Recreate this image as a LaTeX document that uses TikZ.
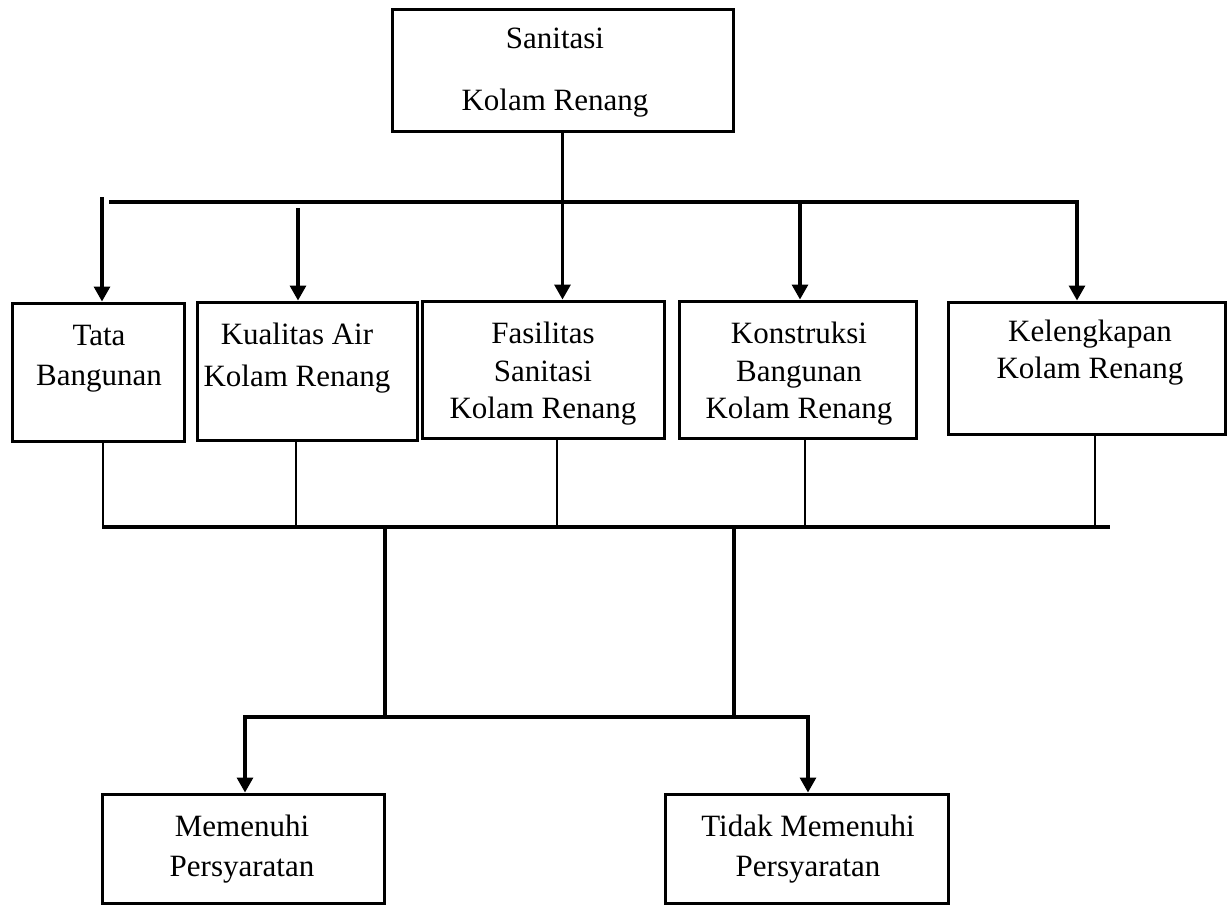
\documentclass[tikz,border=0pt]{standalone}
\usepackage{fontspec}
\setmainfont{Liberation Serif}
\usetikzlibrary{arrows.meta}
\tikzset{
    box/.style={draw,line width=1.5pt,inner sep=0pt},
    txt/.style={inner sep=0pt,align=center,anchor=north,font=\fontsize{15.5}{19.5}\selectfont},
    link/.style={line width=1.6pt},
    thinlink/.style={line width=1pt},
    arr/.style={line width=1.6pt,-{Triangle[width=8pt,length=7.5pt]}},
    arrboth/.style={line width=1.6pt,{Triangle[width=8pt,length=7.5pt]}-{Triangle[width=8pt,length=7.5pt]}}
}
\begin{document}
\begin{tikzpicture}[x=0.5pt,y=-0.5pt]
    \useasboundingbox (0,0) rectangle (1227,905);
    \node[box,minimum width=170.5pt,minimum height=61pt] (sanitasi) at (562.5,70) {};
    \node[box,minimum width=86pt,minimum height=69pt] (tata) at (98,372) {};
    \node[box,minimum width=110pt,minimum height=69pt] (kualitas) at (307,371) {};
    \node[box,minimum width=121pt,minimum height=68.5pt] (fasilitas) at (543,369.5) {};
    \node[box,minimum width=118.5pt,minimum height=68.5pt] (konstruksi) at (797.5,369.5) {};
    \node[box,minimum width=138.5pt,minimum height=66pt] (kelengkapan) at (1086.5,368) {};
    \node[box,minimum width=141pt,minimum height=54.5pt] (memenuhi) at (243,848.5) {};
    \node[box,minimum width=141.5pt,minimum height=54.5pt] (tidak) at (806.5,848.5) {};

    \node[txt,font=\fontsize{15.5}{31}\selectfont] (sanitasiT) at (555,28) {Sanitasi\\Kolam Renang};
    \node[txt,font=\fontsize{15.5}{20}\selectfont] (tataT) at (99,325) {Tata\\Bangunan};
    \node[txt,font=\fontsize{15.5}{21}\selectfont] (kualitasT) at (297,323) {Kualitas Air\\Kolam Renang};
    \node[txt,font=\fontsize{15.5}{18.75}\selectfont] (fasilitasT) at (543,322) {Fasilitas\\Sanitasi\\Kolam Renang};
    \node[txt,font=\fontsize{15.5}{18.75}\selectfont] (konstruksiT) at (799,322) {Konstruksi\\Bangunan\\Kolam Renang};
    \node[txt,font=\fontsize{15.5}{18.5}\selectfont] (kelengkapanT) at (1090,320) {Kelengkapan\\Kolam Renang};
    \node[txt,font=\fontsize{15.5}{20}\selectfont] (memenuhiT) at (242,815) {Memenuhi\\Persyaratan};
    \node[txt,font=\fontsize{15.5}{20}\selectfont] (tidakT) at (808,815) {Tidak Memenuhi\\Persyaratan};

    \coordinate (busL) at (109,202);
    \coordinate (busR) at (1077,202);
    \coordinate (tataIn) at (102,197);
    \coordinate (kualitasIn) at (298,208);
    \coordinate (konstruksiIn) at (800,202);
    \coordinate (lowL) at (102,527);
    \coordinate (lowR) at (1110,527);
    \coordinate (jTata) at (103,527);
    \coordinate (jKualitas) at (296,527);
    \coordinate (jFasilitas) at (557,527);
    \coordinate (jKonstruksi) at (805,527);
    \coordinate (jKelengkapan) at (1095,527);
    \coordinate (midL) at (385,527);
    \coordinate (midR) at (734,527);
    \coordinate (outL) at (245,717);
    \coordinate (outR) at (808,717);

    \draw[arr] (sanitasi.south) -- (sanitasi.south |- fasilitas.north);
    \draw[arr] (busL) -- (busR) -- (busR |- kelengkapan.north);
    \draw[arr] (konstruksiIn) -- (konstruksiIn |- konstruksi.north);
    \draw[arr] (tataIn) -- (tataIn |- tata.north);
    \draw[arr] (kualitasIn) -- (kualitasIn |- kualitas.north);

    \draw[thinlink] (jTata |- tata.south) -- (jTata);
    \draw[thinlink] (jKualitas |- kualitas.south) -- (jKualitas);
    \draw[thinlink] (jFasilitas |- fasilitas.south) -- (jFasilitas);
    \draw[thinlink] (jKonstruksi |- konstruksi.south) -- (jKonstruksi);
    \draw[thinlink] (jKelengkapan |- kelengkapan.south) -- (jKelengkapan);
    \draw[link] (lowL) -- (lowR);

    \draw[link] (midL) -- (midL |- outL);
    \draw[link] (midR) -- (midR |- outL);
    \draw[arrboth] (outL |- memenuhi.north) -- (outL) -- (outR) -- (outR |- tidak.north);
\end{tikzpicture}
\end{document}
